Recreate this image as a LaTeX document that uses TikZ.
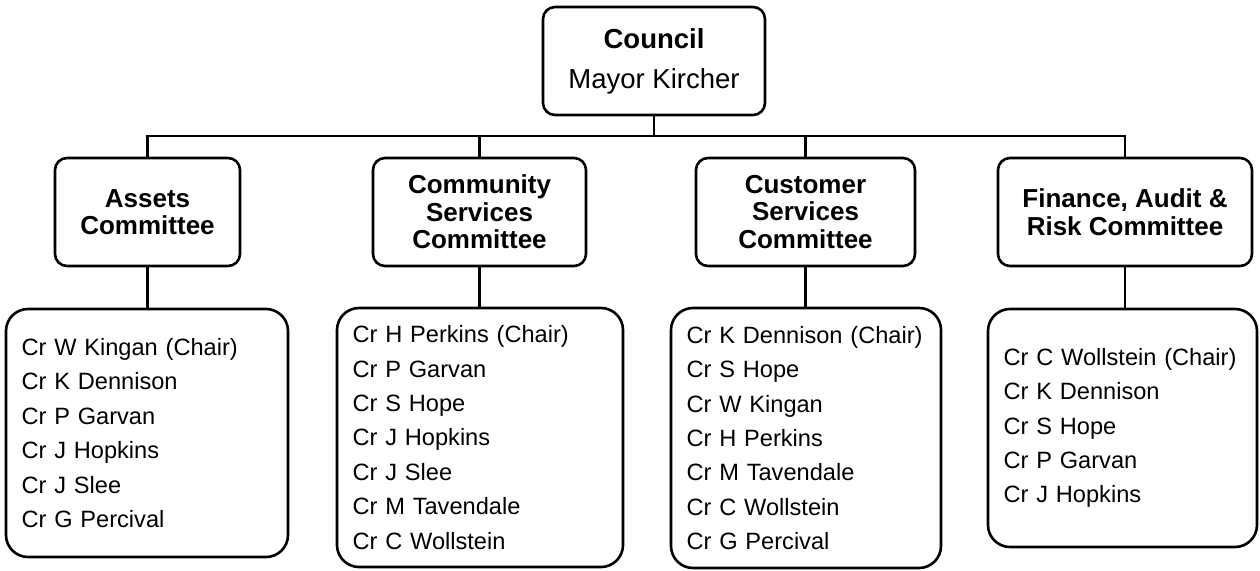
\documentclass[tikz,border=0pt]{standalone}
\usepackage{fontspec}
\setmainfont{Liberation Sans}
\begin{document}
\begin{tikzpicture}[x=1pt,y=-1pt,
  every path/.style={line width=2.6pt},
  conn/.style={draw=black,line width=2.6pt,line cap=rect},
  topbox/.style={draw=black,line width=2.6pt,rounded corners=12pt,align=center,inner sep=0pt,
     font=\fontsize{27.5}{40}\selectfont},
  headbox/.style={draw=black,line width=2.6pt,rounded corners=12pt,align=center,inner sep=0pt,
     minimum height=108pt,font=\fontsize{26}{27.5}\selectfont\bfseries},
  membox/.style={draw=black,line width=2.6pt,rounded corners=22pt,align=left,inner xsep=15.5pt,inner ysep=0pt,
     font=\fontsize{23.6}{34.4}\selectfont}
  ]
\useasboundingbox (0,0) rectangle (1260,570);
\node[topbox,minimum width=222pt,minimum height=108pt] (council) at (654,61)
  {\textbf{Council}\\Mayor Kircher};
\node[headbox,minimum width=185pt] (assets) at (147.5,212) {Assets\\Committee};
\node[headbox,minimum width=213pt] (community) at (479.5,212) {Community\\Services\\Committee};
\node[headbox,minimum width=219pt] (customer) at (805.5,212) {Customer\\Services\\Committee};
\node[headbox,minimum width=254pt] (finance) at (1125,212) {Finance, Audit \&\\Risk Committee};
\node[membox,text width=251pt,minimum height=248pt] (assetsm) at (147,433)
  {Cr W Kingan (Chair)\\Cr K Dennison\\Cr P Garvan\\Cr J Hopkins\\Cr J Slee\\Cr G Percival};
\node[membox,text width=255pt,minimum height=259pt] (communitym) at (480,437.5)
  {Cr H Perkins (Chair)\\Cr P Garvan\\Cr S Hope\\Cr J Hopkins\\Cr J Slee\\Cr M Tavendale\\Cr C Wollstein};
\node[membox,text width=239pt,minimum height=260pt] (customerm) at (806,438)
  {Cr K Dennison (Chair)\\Cr S Hope\\Cr W Kingan\\Cr H Perkins\\Cr M Tavendale\\Cr C Wollstein\\Cr G Percival};
\node[membox,text width=238pt,minimum height=238pt] (financem) at (1122.5,428)
  {Cr C Wollstein (Chair)\\Cr K Dennison\\Cr S Hope\\Cr P Garvan\\Cr J Hopkins};
\coordinate (bus) at (654,136);
\draw[conn] (council.south) -- (bus);
\draw[conn,line cap=butt] (assets.north) |- (bus) -| (finance.north);
\draw[conn,line cap=butt] (community.north) -- (community.north |- bus);
\draw[conn,line cap=butt] (customer.north) -- (customer.north |- bus);
\draw[conn,line cap=butt] (assets.south) -- (assets.south |- assetsm.north);
\draw[conn,line cap=butt] (community.south) -- (community.south |- communitym.north);
\draw[conn,line cap=butt] (customer.south) -- (customer.south |- customerm.north);
\draw[conn,line cap=butt] (finance.south) -- (finance.south |- financem.north);
\end{tikzpicture}
\end{document}
